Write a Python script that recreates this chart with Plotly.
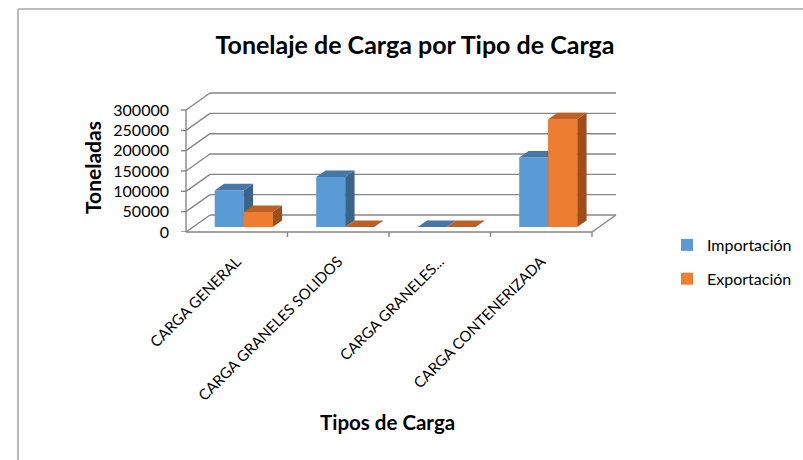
import plotly.graph_objects as go

# ---------------- data ----------------
categories = ["CARGA GENERAL", "CARGA GRANELES SOLIDOS", "CARGA GRANELES...", "CARGA CONTENERIZADA"]
importacion = [90000, 123000, 0, 171000]
exportacion = [37000, 0, 0, 265000]
y_ticks = [0, 50000, 100000, 150000, 200000, 250000, 300000]
series_names = ["Importación", "Exportación"]

# ---------------- styling / geometry ----------------
FONT = "Lato"
GRID = "#868686"
face_cols = {
    "Importación": ("#5B9BD5", "#4677A6", "#3C6489"),
    "Exportación": ("#ED7D31", "#BC6023", "#9E4E1B"),
}
PX_W, PX_H = 803, 460
L_PX, R_PX = 186, 617          # plot area left / right pixel
T_PX, B_PX = 92, 232           # plot area top / bottom pixel
PW, PH = R_PX - L_PX, B_PX - T_PX
cat_px = 101.5                  # px per category
val_px = 20.33 / 50000          # px per unit value
depth_dx = 24 / cat_px          # back-wall offset in x units
depth_dy = 17 / val_px          # back-wall offset in y units
x_max = PW / cat_px
y_max = PH / val_px
f0, f1 = 0.29, 0.68             # bar depth (front, back) as fraction
bw = 29 / cat_px                # bar width


def px_x(px):
    return (px - L_PX) / PW


def px_y(py):
    return (B_PX - py) / PH


n = len(categories)
fig = go.Figure()

gl = dict(color=GRID, width=1.4)
shapes = []
# back wall gridlines + left side wall diagonals
for v in y_ticks:
    shapes.append(dict(type="line", xref="x", yref="y", x0=0, y0=v, x1=depth_dx, y1=v + depth_dy,
                       line=gl, layer="below"))
    shapes.append(dict(type="line", xref="x", yref="y", x0=depth_dx, y0=v + depth_dy,
                       x1=n + depth_dx, y1=v + depth_dy, line=gl, layer="below"))
# front floor edge and right floor diagonal
shapes.append(dict(type="line", xref="x", yref="paper", x0=0, y0=0, x1=n, y1=0, line=gl, layer="below"))
shapes.append(dict(type="line", xref="x", yref="y", x0=n, y0=0, x1=n + depth_dx, y1=depth_dy,
                   line=gl, layer="below"))
# front vertical axis line
shapes.append(dict(type="line", xref="paper", yref="y", x0=0, y0=0, x1=0, y1=y_ticks[-1],
                   line=gl, layer="below"))
# y ticks (outside)
for v in y_ticks:
    shapes.append(dict(type="line", xref="paper", yref="y", x0=-5 / PW, y0=v, x1=0, y1=v, line=gl))
# category boundary ticks
for i in range(1, n + 1):
    shapes.append(dict(type="line", xref="x", yref="paper", x0=i, y0=0, x1=i, y1=-5 / PH, line=gl))
# chart border (left and top)
bl = dict(color="#a6a6a6", width=1.5)
shapes.append(dict(type="line", xref="paper", yref="paper",
                   x0=px_x(18), y0=px_y(9), x1=px_x(18), y1=px_y(PX_H), line=bl))
shapes.append(dict(type="line", xref="paper", yref="paper",
                   x0=px_x(18), y0=px_y(9), x1=px_x(PX_W), y1=px_y(9), line=bl))

ddx = (f1 - f0) * depth_dx
ddy = (f1 - f0) * depth_dy
base = f0 * depth_dy

poly_traces = []
for s_idx, (name, vals) in enumerate(zip(series_names, [importacion, exportacion])):
    front, top, side = face_cols[name]
    centers = [i + 0.5 + f0 * depth_dx for i in range(n)]
    offset = -bw if s_idx == 0 else 0
    fig.add_trace(go.Bar(
        x=centers, y=vals, base=[base] * n, width=[bw] * n, offset=[offset] * n,
        marker=dict(color=front, line=dict(width=0)), name=name, legendgroup=name,
        hoverinfo="skip"))
    for i, v in enumerate(vals):
        xl = centers[i] + offset
        xr = xl + bw
        ytop = base + v
        poly_traces.append(go.Scatter(
            x=[xl, xr, xr + ddx, xl + ddx, xl],
            y=[ytop, ytop, ytop + ddy, ytop + ddy, ytop],
            fill="toself", fillcolor=top, mode="lines", line=dict(width=0, color=top),
            showlegend=False, hoverinfo="skip"))
        poly_traces.append(go.Scatter(
            x=[xr, xr, xr + ddx, xr + ddx, xr],
            y=[base, ytop, ytop + ddy, base + ddy, base],
            fill="toself", fillcolor=side, mode="lines", line=dict(width=0, color=side),
            showlegend=False, hoverinfo="skip"))

for t in poly_traces:
    fig.add_trace(t)

# export front faces re-drawn on top so they cover the import side faces
exp_front = face_cols["Exportación"][0]
for i, v in enumerate(exportacion):
    xl = i + 0.5 + f0 * depth_dx
    xr = xl + bw
    fig.add_trace(go.Scatter(
        x=[xl, xr, xr, xl, xl], y=[base, base, base + v, base + v, base],
        fill="toself", fillcolor=exp_front, mode="lines", line=dict(width=0, color=exp_front),
        showlegend=False, hoverinfo="skip"))

fig.update_layout(
    width=PX_W, height=PX_H,
    margin=dict(l=L_PX, r=PX_W - R_PX, t=T_PX, b=PX_H - B_PX, pad=0, autoexpand=False),
    paper_bgcolor="white", plot_bgcolor="white",
    font=dict(family=FONT, color="#000000"),
    title=dict(text="<b>Tonelaje de Carga por Tipo de Carga</b>", x=415 / PX_W, xanchor="center",
               y=1 - 45 / PX_H, yanchor="middle", font=dict(size=25, family=FONT, color="#000")),
    xaxis=dict(range=[0, x_max], tickvals=[i + 0.5 for i in range(n)], ticktext=categories,
               tickangle=-45, showgrid=False, zeroline=False, showline=False, ticks="",
               ticklabelstandoff=17, automargin=False,
               tickfont=dict(size=15, family=FONT, color="#000")),
    yaxis=dict(range=[0, y_max], tickvals=y_ticks, ticktext=[str(v) for v in y_ticks],
               showgrid=False, zeroline=False, showline=False, ticks="", ticklabelstandoff=16,
               automargin=False, tickfont=dict(size=16, family=FONT, color="#000")),
    barmode="overlay",
    showlegend=True,
    legend=dict(x=px_x(667), y=px_y(228), xanchor="left", yanchor="top",
                font=dict(size=16, family=FONT, color="#000"), tracegroupgap=10,
                bgcolor="rgba(0,0,0,0)"),
    shapes=shapes,
    annotations=[
        dict(text="<b>Tipos de Carga</b>", xref="paper", yref="paper",
             x=px_x(387), y=px_y(422), xanchor="center", yanchor="middle", showarrow=False,
             font=dict(size=20.5, family=FONT, color="#000")),
        dict(text="<b>Toneladas</b>", xref="paper", yref="paper",
             x=px_x(92), y=px_y(168), xanchor="center", yanchor="middle", showarrow=False,
             textangle=-90, font=dict(size=21, family=FONT, color="#000")),
    ],
)

fig.write_html("out.html", config={"displayModeBar": False},
               post_script="document.body.style.margin='0';document.body.style.overflow='hidden';")
